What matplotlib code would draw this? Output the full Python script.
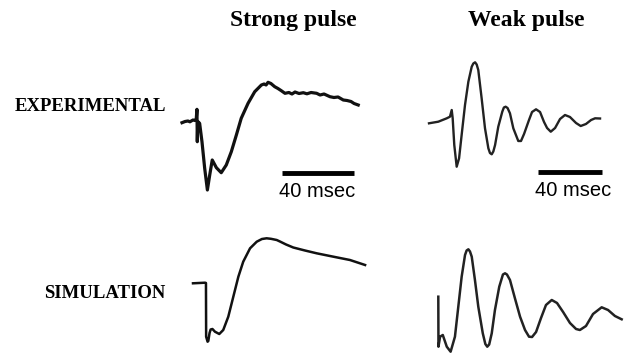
import numpy as np
import matplotlib
matplotlib.use("Agg")
import matplotlib.pyplot as plt

W, H = 629, 354

# Strong pulse, recorded (time in ms, amplitude in a.u.)
strong_exp_t = [0, 1.7, 3.3, 4.4, 6.1, 7.2, 7.9, 8.3, 8.5, 8.8, 9.8, 11.1, 12.6,
                14.1, 15.4, 16.8, 19.1, 21.8, 24.6, 27.4, 30.2, 32.9, 36.7, 40.4,
                44.1, 45.6, 46.7, 47.8, 49.4, 51.5, 53.3, 55.0, 57.2, 59.4, 61.1,
                62.8, 65.0, 67.4, 69.4, 71.7, 74.8, 76.7, 78.9, 82.2, 84.4, 86.7,
                89.6, 91.7, 93.9, 95.6, 97.9]
strong_exp_v = [-0.17, -0.05, 0, -0.08, 0.1, 0.05, 0.17, 1.17, -2.07, -0.05, -0.23,
                -2.07, -4.73, -6.9, -5.4, -3.9, -4.67, -5.17, -4.4, -3.07, -1.4,
                0.27, 1.77, 2.93, 3.6, 3.7, 3.6, 3.87, 3.75, 3.43, 3.25, 3.05,
                2.77, 2.85, 2.7, 2.9, 2.75, 2.83, 2.72, 2.85, 2.77, 2.6, 2.7,
                2.43, 2.35, 2.4, 2.1, 2.05, 1.95, 1.75, 1.6]

# Strong pulse, model
strong_sim_t = [0, 6.7, 7.2, 7.3, 8.1, 8.5, 9.2, 9.8, 10.8, 12.2, 14.6, 16.8, 19.6,
                22.4, 25.2, 27.9, 31.7, 35.4, 38.3, 40.9, 43.3, 46.5, 48.3, 51.7,
                55.7, 62.2, 68.7, 78.0, 87.2, 95.6]
strong_sim_v = [-0.03, 0.03, 0, -5.37, -5.87, -5.8, -5.0, -4.65, -4.6, -4.87, -5.1,
                -4.7, -3.37, -1.37, 0.63, 2.13, 3.47, 4.13, 4.4, 4.47, 4.42, 4.3,
                4.15, 3.85, 3.55, 3.25, 2.97, 2.63, 2.3, 1.8]

# Weak pulse, recorded
weak_exp_t = [0, 5.8, 11.1, 13.1, 14.2, 14.8, 15.8, 17.3, 18.8, 20.4, 22.5, 24.6,
              26.7, 27.7, 28.8, 29.8, 30.8, 32.9, 35.0, 37.1, 38.1, 39.2, 40.2,
              41.3, 43.3, 45.8, 46.8, 47.9, 49.1, 50.6, 52.7, 55.8, 57.5, 59.4,
              62.5, 64.4, 66.9, 69.4, 71.9, 73.8, 76.1, 78.8, 81.9, 85.0, 88.1,
              91.9, 94.8, 98.1, 101.3, 103.8, 106.9]
weak_exp_v = [-0.13, 0.03, 0.37, 0.53, 1.2, 0.37, -2.3, -4.47, -3.63, -1.3, 1.7,
              4.03, 5.53, 5.85, 5.97, 5.75, 5.2, 2.37, -0.63, -2.63, -3.1, -3.23,
              -2.95, -2.3, -0.47, 1.03, 1.45, 1.53, 1.4, 0.87, -0.63, -1.9, -1.9,
              -1.2, 0.2, 1.0, 1.27, 1.0, 0, -0.6, -0.97, -0.6, 0.3, 0.7, 0.5,
              -0.1, -0.4, -0.2, 0.2, 0.37, 0.35]

# Weak pulse, model
weak_sim_t = [0, 0.1, 1.1, 2.8, 5.3, 7.7, 10.4, 12.5, 14.6, 16.7, 17.7, 18.8, 19.8,
              20.9, 22.9, 25.0, 27.8, 29.4, 30.6, 31.8, 33.4, 35.4, 38.1, 40.4,
              41.7, 42.9, 44.8, 47.9, 51.1, 54.2, 56.7, 58.6, 61.1, 64.2, 67.3,
              70.9, 74.2, 78.0, 82.3, 86.1, 88.5, 92.3, 96.7, 102.1, 106.1, 110.4,
              114.6]
weak_sim_v = [2.33, -2.67, -1.67, -1.5, -2.67, -3.17, -1.67, 1.33, 4.33, 6.5, 6.95,
              7.07, 6.85, 6.33, 4.0, 1.33, -1.33, -2.4, -2.67, -2.45, -1.33, 1.0,
              3.33, 4.55, 4.67, 4.55, 4.0, 2.17, 0.33, -1.0, -1.67, -1.7, -1.2,
              0.2, 1.5, 2.0, 1.7, 0.8, -0.3, -0.9, -1.0, -0.6, 0.6, 1.27, 1.0, 0.4,
              0.07]

scale_ms = 40

fig = plt.figure(figsize=(W / 100, H / 100), dpi=100)
fig.patch.set_facecolor("white")


def panel(box, t0, px_ms, y0, px_unit=10.0):
    # box = (left, right, top, bottom) in pixels; t0/y0 = pixel position of t=0, v=0
    l, r, t, b = box
    ax = fig.add_axes([l / W, 1 - b / H, (r - l) / W, (b - t) / H])
    ax.set_xlim((l - t0) / px_ms, (r - t0) / px_ms)
    ax.set_ylim((y0 - b) / px_unit, (y0 - t) / px_unit)
    ax.axis("off")
    return ax


ax1 = panel((175, 372, 50, 215), 182, 1.8, 121)
ax1.plot(strong_exp_t, strong_exp_v, color="#111111", lw=2.3, solid_joinstyle="round")
ax1.plot([55.4, 55.4 + scale_ms], [-5.2, -5.2], color="black", lw=3.5, solid_capstyle="butt")
ax1.text(55.4 + scale_ms / 2 - 0.5, -7.05, f"{scale_ms} msec", ha="center", va="center",
         fontsize=14.5, family="Liberation Sans")

ax2 = panel((420, 629, 50, 215), 429, 1.6, 122)
ax2.plot(weak_exp_t, weak_exp_v, color="#222222", lw=1.7, solid_joinstyle="round")
ax2.plot([68.1, 68.1 + scale_ms], [-5.0, -5.0], color="black", lw=3.5, solid_capstyle="butt")
ax2.text(68.1 + scale_ms / 2 + 2, -6.8, f"{scale_ms} msec", ha="center", va="center",
         fontsize=14.5, family="Liberation Sans")

ax3 = panel((185, 375, 225, 354), 193, 1.8, 283)
ax3.plot(strong_sim_t, strong_sim_v, color="#111111", lw=1.8, solid_joinstyle="round")

ax4 = panel((425, 629, 235, 354), 438.3, 1.6, 320)
ax4.plot(weak_sim_t, weak_sim_v, color="#222222", lw=1.8, solid_joinstyle="round")

# column titles and row labels
fig.text(293 / W, 1 - 26 / H, "Strong pulse", ha="center", va="baseline",
         fontsize=17, fontweight="bold", family="Liberation Serif")
fig.text(526.5 / W, 1 - 26 / H, "Weak pulse", ha="center", va="baseline",
         fontsize=17, fontweight="bold", family="Liberation Serif")
fig.text(90 / W, 1 - 111 / H, "EXPERIMENTAL", ha="center", va="baseline",
         fontsize=13.5, fontweight="bold", family="Liberation Serif")
fig.text(105 / W, 1 - 298 / H, "SIMULATION", ha="center", va="baseline",
         fontsize=13.5, fontweight="bold", family="Liberation Serif")

fig.savefig("out.png", dpi=100)
